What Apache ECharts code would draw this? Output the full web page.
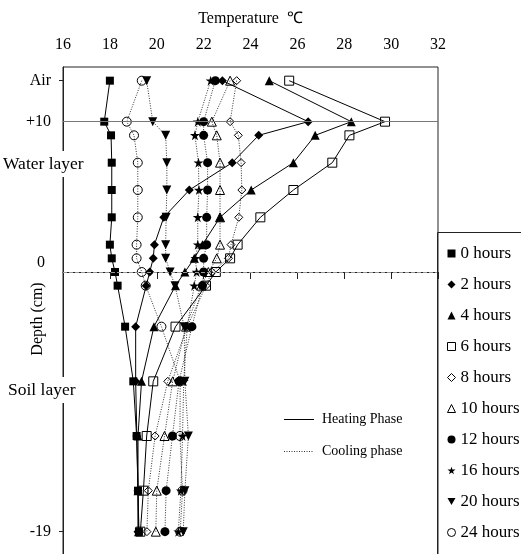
<!DOCTYPE html>
<html>
<head>
<meta charset="utf-8">
<script src="https://cdn.jsdelivr.net/npm/echarts@6/dist/echarts.min.js"></script>
<style>html,body{margin:0;padding:0;background:#fff;}#c{width:521px;height:554px;}</style>
</head>
<body>
<div id="c"></div>
<script>
// Depth positions (cm scale) of the measurement rows: Air, +10 surface, water, soil
const depths = [14, 11, 10, 8, 6, 4, 2, 1, 0, -1, -4, -8, -12, -16, -19];
const seriesNames = ['0 hours','2 hours','4 hours','6 hours','8 hours','10 hours','12 hours','16 hours','20 hours','24 hours'];
const t0h  = [18.0, 17.76, 18.05, 18.08, 18.08, 18.08, 18.0, 18.08, 18.22, 18.33, 18.65, 19.0, 19.14, 19.2, 19.24];
const t2h  = [22.8, 26.46, 24.35, 23.22, 21.39, 20.3, 19.9, 19.85, 19.7, 19.55, 19.1, 19.1, 19.15, 19.2, 19.2];
const t4h  = [24.8, 28.3, 26.76, 25.83, 24.03, 22.7, 21.95, 21.6, 21.2, 20.8, 19.88, 19.35, 19.2, 19.2, 19.22];
const t6h  = [25.65, 29.74, 28.22, 27.49, 25.83, 24.42, 23.45, 23.13, 22.52, 22.1, 20.8, 19.85, 19.57, 19.43, 19.3];
const t8h  = [23.41, 23.13, 23.48, 23.6, 23.63, 23.5, 23.17, 23.06, 22.35, 22.1, 21.3, 20.47, 19.93, 19.64, 19.58];
const t10h = [23.13, 22.35, 22.56, 22.7, 22.7, 22.7, 22.7, 22.56, 22.2, 21.9, 21.25, 20.68, 20.33, 20.0, 19.96];
const t12h = [22.5, 22.0, 22.0, 22.17, 22.17, 22.13, 22.13, 22.0, 22.0, 21.95, 21.5, 20.95, 20.67, 20.4, 20.35];
const t16h = [22.3, 21.75, 21.63, 21.78, 21.8, 21.75, 21.75, 21.65, 21.7, 21.6, 21.3, 21.15, 21.1, 21.03, 20.92];
const t20h = [19.57, 19.83, 20.38, 20.43, 20.43, 20.4, 20.38, 20.38, 20.57, 20.78, 21.17, 21.2, 21.35, 21.2, 21.13];
const t24h = [19.36, 18.72, 19.03, 19.19, 19.19, 19.19, 19.14, 19.14, 19.36, 19.53, 20.2, 21.0, 20.99, 21.1, 21.0];
const xTicks = [16, 18, 20, 22, 24, 26, 28, 30, 32];
const yTickValues = [14, 11, -19];
const yTickLabels = ['Air', '+10', '-19'];
const surfaceLevel = 11;
const soilLevel = 0;

const FONT = "'Liberation Serif','Times New Roman',serif";
const STAR = 'path://M5,0 L6.2,3.6 L10,3.6 L6.9,5.9 L8.1,9.6 L5,7.3 L1.9,9.6 L3.1,5.9 L0,3.6 L3.8,3.6 Z';
const DOWN = 'path://M0,0 L10,0 L5,9 Z';
const allTemps = [t0h, t2h, t4h, t6h, t8h, t10h, t12h, t16h, t20h, t24h];
const symbols = ['rect','diamond','triangle','rect','diamond','triangle','circle', STAR, DOWN, 'circle'];
const filled  = [true, true, true, false, false, false, true, true, true, false];
const heating = [true, true, true, true, false, false, false, false, false, false];
const sizes = [8, 9, 9, 9, 8, 9, 9, 10, 9, 9];

const series = allTemps.map((arr, i) => ({
  name: seriesNames[i],
  type: 'line',
  data: arr.map((t, j) => [t, depths[j]]),
  symbol: symbols[i],
  symbolSize: sizes[i],
  showSymbol: true,
  z: heating[i] ? 3 : 2,
  itemStyle: {
    color: filled[i] ? '#000' : 'rgba(255,255,255,0)',
    borderColor: '#000',
    borderWidth: filled[i] ? 0 : 1
  },
  lineStyle: heating[i]
    ? {color: '#000', width: 1, type: 'solid'}
    : {color: '#333', width: 1, type: [1, 1.5]},
  emphasis: {disabled: true},
  markLine: i === 0 ? {
    silent: true, symbol: 'none', label: {show: false}, animation: false,
    data: [
      {yAxis: surfaceLevel, lineStyle: {color: '#777', width: 1, type: 'solid'}},
      {yAxis: soilLevel, lineStyle: {color: '#999', width: 1, type: 'dashed'}}
    ]
  } : undefined
}));

const chart = echarts.init(document.getElementById('c'), null, {renderer: 'canvas'});
chart.setOption({
  animation: false,
  backgroundColor: '#fff',
  grid: {left: 63, top: 67, width: 375, height: 492, containLabel: false, outerBoundsMode: 'none',
         show: true, borderColor: '#222', borderWidth: 1, backgroundColor: 'transparent'},
  xAxis: {
    type: 'value', position: 'top', min: xTicks[0], max: xTicks[xTicks.length - 1], interval: 2,
    name: 'Temperature  \u2103', nameLocation: 'middle', nameGap: 40,
    nameTextStyle: {fontFamily: FONT, fontSize: 16, color: '#000'},
    axisLine: {show: true, lineStyle: {color: '#222', width: 1}},
    axisTick: {show: true, inside: true, length: 7, lineStyle: {color: '#222'}},
    axisLabel: {fontFamily: FONT, fontSize: 16, color: '#000', margin: 14},
    splitLine: {show: false}
  },
  yAxis: {
    type: 'value', min: -21, max: 15,
    axisLine: {show: true, lineStyle: {color: '#222', width: 1}},
    axisTick: {show: true, customValues: [yTickValues[0], yTickValues[2]], length: 4, lineStyle: {color: '#222'}},
    axisLabel: {
      customValues: yTickValues,
      formatter: v => { const k = yTickValues.indexOf(v); return k >= 0 ? yTickLabels[k] : ''; },
      fontFamily: FONT, fontSize: 16, color: '#000', margin: 12
    },
    splitLine: {show: false}
  },
  legend: {
    orient: 'vertical', left: 442, top: 240, itemWidth: 8, itemHeight: 8, itemGap: 14,
    textStyle: {fontFamily: FONT, fontSize: 17, color: '#000'},
    selectedMode: false,
    data: seriesNames.map((n, i) => ({
      name: n, icon: symbols[i],
      itemStyle: {color: filled[i] ? '#000' : '#fff', borderColor: '#000', borderWidth: filled[i] ? 0 : 1}
    }))
  },
  graphic: [
    {type: 'rect', z: 50, silent: true, shape: {x: 437.5, y: 232.5, width: 120, height: 400},
     style: {fill: 'none', stroke: '#222', lineWidth: 1}},
    {type: 'text', z: 100, left: 3, top: 151, silent: true,
     style: {text: 'Water layer', font: "17.5px " + FONT, fill: '#000', backgroundColor: '#fff', padding: [4, 0, 4, 0]}},
    {type: 'text', z: 100, left: 8, top: 377, silent: true,
     style: {text: 'Soil layer', font: "17.5px " + FONT, fill: '#000', backgroundColor: '#fff', padding: [4, 0, 4, 0]}},
    {type: 'text', z: 100, x: 41, y: 263, silent: true,
     style: {text: '0', font: "16px " + FONT, fill: '#000', align: 'center', verticalAlign: 'middle'}},
    {type: 'text', z: 100, x: 38, y: 319, rotation: Math.PI / 2, silent: true,
     style: {text: 'Depth (cm)', font: "16px " + FONT, fill: '#000', align: 'center', verticalAlign: 'middle'}},
    {type: 'line', z: 100, silent: true, shape: {x1: 284, y1: 419.5, x2: 314, y2: 419.5},
     style: {stroke: '#000', lineWidth: 1}},
    {type: 'text', z: 100, x: 322, y: 419, silent: true,
     style: {text: 'Heating Phase', font: "14px " + FONT, fill: '#000', verticalAlign: 'middle'}},
    {type: 'line', z: 100, silent: true, shape: {x1: 284, y1: 451.5, x2: 314, y2: 451.5},
     style: {stroke: '#333', lineWidth: 1, lineDash: [1, 1.5]}},
    {type: 'text', z: 100, x: 322, y: 451, silent: true,
     style: {text: 'Cooling phase', font: "14px " + FONT, fill: '#000', verticalAlign: 'middle'}}
  ],
  series: series
});
</script>
</body>
</html>
